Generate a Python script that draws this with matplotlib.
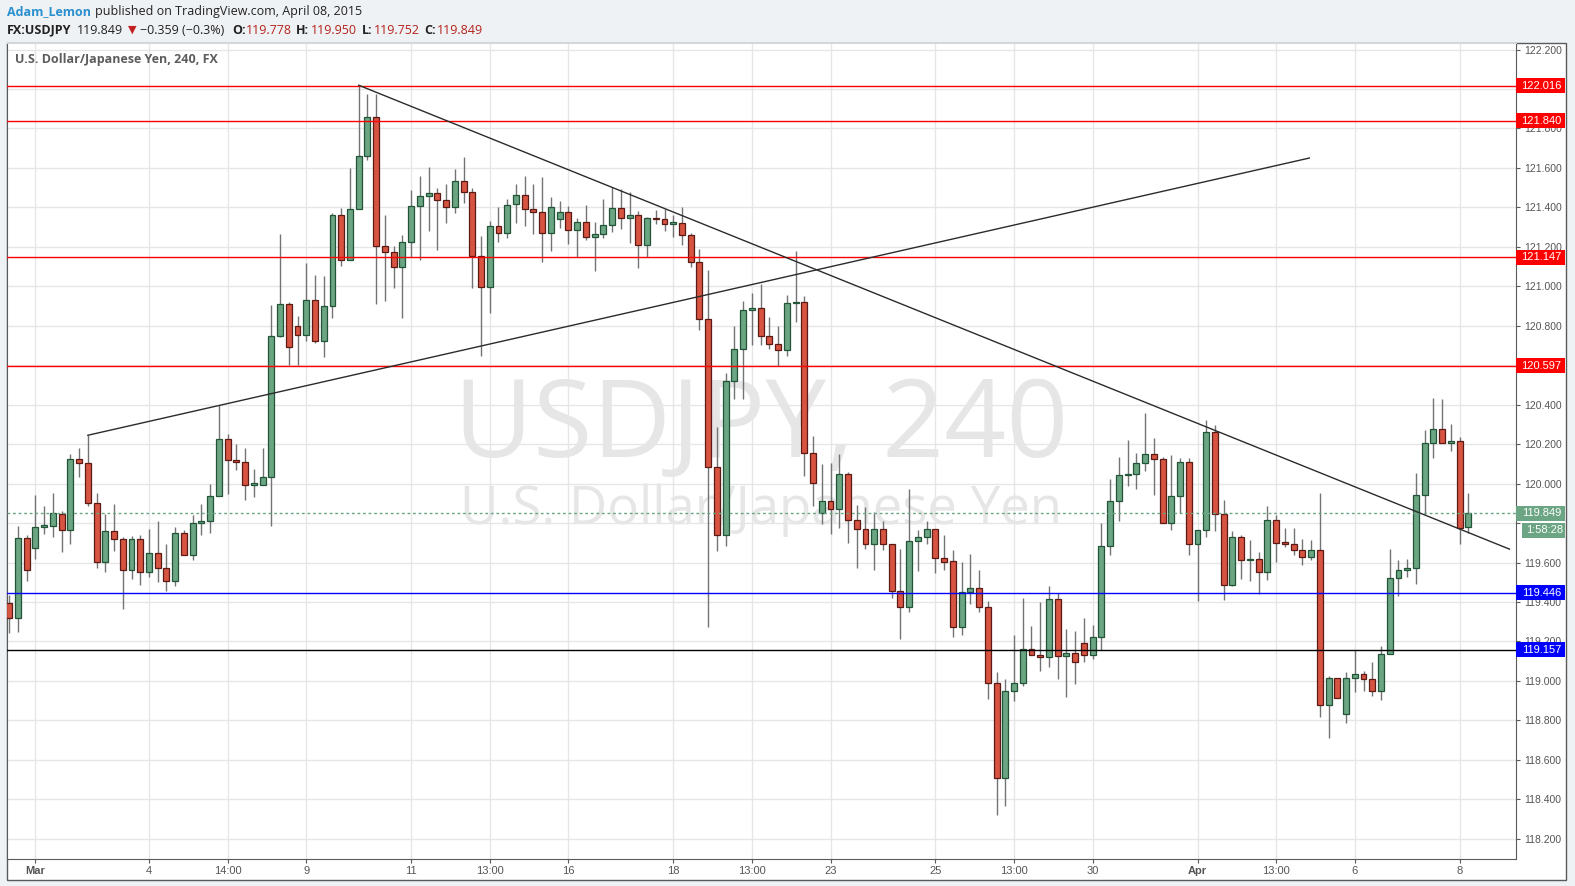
"""
USD/JPY 4h candles, Mar - Apr 2015, redrawn in TradingView style.
"""
import matplotlib
matplotlib.use('Agg')

import numpy as np
import matplotlib.pyplot as plt
import matplotlib.transforms as mtransforms
from matplotlib.patches import Rectangle

plt.rcParams['font.family'] = ['Open Sans', 'DejaVu Sans']

# OHLC, one entry per 4h candle
opens = [119.394, 119.318, 119.722, 119.672, 119.782, 119.787, 119.845, 119.767, 120.126, 120.104,
         119.902, 119.605, 119.762, 119.717, 119.560, 119.717, 119.551, 119.650, 119.571, 119.504,
         119.751, 119.636, 119.800, 119.813, 119.939, 120.227, 120.121, 120.110, 119.995, 119.995,
         120.034, 120.747, 120.909, 120.801, 120.752, 120.929, 120.721, 120.898, 121.363, 121.131,
         121.392, 121.661, 121.858, 121.206, 121.176, 121.100, 121.225, 121.408, 121.459, 121.472,
         121.437, 121.401, 121.535, 121.479, 121.156, 120.994, 121.307, 121.268, 121.417, 121.463,
         121.392, 121.378, 121.270, 121.341, 121.378, 121.286, 121.328, 121.248, 121.265, 121.311,
         121.397, 121.346, 121.362, 121.209, 121.346, 121.341, 121.317, 121.321, 121.260, 121.123,
         120.834, 120.082, 119.739, 120.521, 120.682, 120.880, 120.888, 120.747, 120.706, 120.676,
         120.914, 120.920, 120.155, 119.851, 119.913, 119.870, 120.048, 119.816, 119.771, 119.696,
         119.771, 119.696, 119.458, 119.376, 119.709, 119.729, 119.771, 119.624, 119.607, 119.274,
         119.451, 119.471, 119.375, 118.990, 118.508, 118.947, 118.990, 119.162, 119.133, 119.121,
         119.416, 119.126, 119.142, 119.192, 119.130, 119.223, 119.686, 119.913, 120.043, 120.048,
         120.105, 120.151, 120.126, 119.801, 119.938, 120.110, 119.695, 119.764, 120.263, 119.847,
         119.487, 119.730, 119.613, 119.618, 119.553, 119.816, 119.700, 119.695, 119.661, 119.629,
         119.664, 118.878, 119.015, 118.832, 119.015, 119.035, 119.010, 118.947, 119.137, 119.522,
         119.563, 119.573, 119.943, 120.207, 120.278, 120.207, 120.217, 119.778]
highs = [119.436, 119.785, 119.742, 119.941, 119.885, 119.953, 119.863, 120.148, 120.178, 120.245,
         119.950, 119.845, 119.899, 119.728, 119.737, 119.742, 119.769, 119.809, 119.692, 119.782,
         119.767, 119.840, 119.895, 119.998, 120.399, 120.251, 120.202, 120.182, 120.074, 120.178,
         120.905, 121.266, 120.918, 120.849, 121.116, 121.056, 121.051, 121.369, 121.399, 121.601,
         122.018, 121.973, 121.973, 121.363, 121.206, 121.261, 121.486, 121.558, 121.607, 121.500,
         121.518, 121.596, 121.657, 121.500, 121.253, 121.333, 121.401, 121.441, 121.519, 121.561,
         121.519, 121.556, 121.451, 121.434, 121.409, 121.345, 121.414, 121.328, 121.443, 121.502,
         121.493, 121.477, 121.384, 121.353, 121.387, 121.392, 121.363, 121.400, 121.269, 121.189,
         121.084, 120.285, 120.559, 120.797, 120.927, 120.964, 121.012, 120.846, 120.799, 120.958,
         121.181, 120.949, 120.242, 120.097, 120.103, 120.151, 120.058, 119.893, 119.883, 119.858,
         119.810, 119.696, 119.671, 119.971, 119.767, 119.812, 119.771, 119.742, 119.661, 119.602,
         119.645, 119.564, 119.404, 119.045, 119.010, 119.235, 119.421, 119.280, 119.399, 119.483,
         119.446, 119.265, 119.255, 119.319, 119.285, 119.801, 120.021, 120.136, 120.219, 120.156,
         120.356, 120.232, 120.136, 120.143, 120.131, 120.131, 119.764, 120.320, 120.295, 119.915,
         119.762, 119.742, 119.716, 119.655, 119.889, 119.843, 119.774, 119.774, 119.720, 119.713,
         119.950, 119.027, 119.015, 119.045, 119.159, 119.052, 119.098, 119.179, 119.669, 119.615,
         119.618, 120.055, 120.274, 120.435, 120.427, 120.301, 120.237, 119.950]
lows = [119.241, 119.250, 119.508, 119.620, 119.746, 119.731, 119.652, 119.692, 120.031, 119.886,
        119.574, 119.553, 119.656, 119.367, 119.515, 119.484, 119.529, 119.502, 119.457, 119.479,
        119.636, 119.614, 119.740, 119.751, 119.939, 119.948, 120.070, 119.917, 119.931, 119.995,
        119.785, 120.742, 120.599, 120.599, 120.723, 120.711, 120.644, 120.840, 121.104, 121.131,
        121.392, 121.639, 120.909, 120.927, 120.990, 120.840, 121.147, 121.135, 121.282, 121.185,
        121.323, 121.372, 121.423, 120.990, 120.647, 120.864, 121.225, 121.243, 121.319, 121.308,
        121.265, 121.122, 121.181, 121.294, 121.215, 121.150, 121.235, 121.079, 121.243, 121.274,
        121.291, 121.218, 121.091, 121.150, 121.316, 121.279, 121.248, 121.211, 121.096, 120.780,
        119.275, 119.659, 119.685, 120.428, 120.428, 120.704, 120.703, 120.683, 120.596, 120.648,
        120.817, 120.039, 119.888, 119.797, 119.746, 119.775, 119.700, 119.574, 119.667, 119.563,
        119.661, 119.419, 119.210, 119.351, 119.555, 119.696, 119.549, 119.560, 119.223, 119.235,
        119.390, 119.348, 118.908, 118.318, 118.364, 118.897, 118.973, 119.130, 119.049, 119.071,
        119.010, 118.919, 118.984, 119.094, 119.111, 119.159, 119.640, 119.813, 119.987, 119.975,
        120.063, 119.941, 119.801, 119.767, 119.853, 119.640, 119.404, 119.728, 119.759, 119.412,
        119.480, 119.518, 119.505, 119.443, 119.511, 119.602, 119.678, 119.640, 119.590, 119.611,
        118.817, 118.711, 118.913, 118.786, 118.944, 118.948, 118.922, 118.905, 119.137, 119.429,
        119.525, 119.492, 119.847, 120.130, 120.207, 120.165, 119.695, 119.752]
closes = [119.318, 119.722, 119.560, 119.782, 119.789, 119.849, 119.767, 120.126, 120.106, 119.904,
          119.605, 119.762, 119.717, 119.560, 119.717, 119.551, 119.650, 119.571, 119.504, 119.751,
          119.636, 119.802, 119.813, 119.939, 120.227, 120.121, 120.110, 119.995, 119.998, 120.034,
          120.747, 120.909, 120.691, 120.752, 120.929, 120.721, 120.898, 121.363, 121.131, 121.392,
          121.661, 121.858, 121.206, 121.176, 121.100, 121.225, 121.408, 121.459, 121.472, 121.437,
          121.401, 121.535, 121.479, 121.156, 120.994, 121.307, 121.268, 121.414, 121.463, 121.392,
          121.375, 121.270, 121.404, 121.379, 121.286, 121.328, 121.248, 121.265, 121.311, 121.397,
          121.346, 121.362, 121.209, 121.346, 121.341, 121.316, 121.320, 121.260, 121.123, 120.834,
          120.082, 119.739, 120.521, 120.682, 120.880, 120.890, 120.747, 120.706, 120.676, 120.914,
          120.920, 120.155, 120.004, 119.913, 119.870, 120.048, 119.816, 119.771, 119.696, 119.771,
          119.696, 119.458, 119.376, 119.709, 119.729, 119.771, 119.624, 119.605, 119.274, 119.451,
          119.471, 119.375, 118.990, 118.508, 118.947, 118.990, 119.162, 119.130, 119.121, 119.416,
          119.126, 119.142, 119.096, 119.130, 119.223, 119.686, 119.913, 120.043, 120.048, 120.105,
          120.151, 120.126, 119.801, 119.938, 120.110, 119.695, 119.764, 120.263, 119.847, 119.487,
          119.730, 119.613, 119.618, 119.553, 119.816, 119.700, 119.695, 119.661, 119.629, 119.664,
          118.878, 119.015, 118.913, 119.015, 119.035, 119.010, 118.947, 119.137, 119.522, 119.563,
          119.573, 119.943, 120.207, 120.278, 120.207, 120.217, 119.776, 119.849]

tick_idx = [3, 16, 25, 34, 46, 55, 64, 76, 85, 94, 106, 115, 124, 136, 145, 154, 166]
tick_lbl = ['Mar', '4', '14:00', '9', '11', '13:00', '16', '18', '13:00',
            '23', '25', '13:00', '30', 'Apr', '13:00', '6', '8']

red_levels = [122.016, 121.840, 121.147, 120.597]
blue_level = 119.446
black_level = 119.157
last_price = 119.849
countdown = '1:58:28'
# scale labels that sit fully under a price tag in the original
hidden_prices = [122.0, 119.8]

# trend lines as (candle index, price) end points
rising_x, rising_y = [9, 148.8], [120.245, 121.650]
falling_x, falling_y = [40, 171.7], [122.019, 119.668]

W, H = 1575, 886


def fx(px):
    return px / W


def fy(py):
    return 1 - py / H


fig = plt.figure(figsize=(W / 100, H / 100), dpi=100, facecolor='#eff2f5')

# white chart frame (plot + price scale + time scale), kept behind the axes
fig.patches.append(Rectangle((fx(7), fy(880)), fx(1566) - fx(7), fy(43) - fy(880),
                             transform=fig.transFigure, fc='white', ec='#5a5a5a', lw=1, zorder=-5))

ax = fig.add_axes([fx(7), fy(859), fx(1516) - fx(7), fy(43) - fy(859)])
ax.set_facecolor('white')
ax.set_xlim(-0.25, 172.45)
ax.set_ylim(118.0975, 122.233)

o = np.array(opens)
h = np.array(highs)
l = np.array(lows)
c = np.array(closes)
x = np.arange(len(o))
up = c >= o

ax.vlines(x, l, h, color='#737375', lw=1, zorder=2)
body_lo = np.minimum(o, c)
body_h = np.maximum(np.abs(c - o), 0.007)
ax.bar(x[up], body_h[up], bottom=body_lo[up], width=0.68,
       color='#6ba583', edgecolor='#225437', lw=0.9, zorder=3)
ax.bar(x[~up], body_h[~up], bottom=body_lo[~up], width=0.68,
       color='#d75442', edgecolor='#5b1a13', lw=0.9, zorder=3)

# levels and drawings
for lv in red_levels:
    ax.axhline(lv, color='#ff0000', lw=1.0, zorder=4)
ax.axhline(blue_level, color='#0000ff', lw=1.0, zorder=4)
ax.axhline(black_level, color='#000000', lw=1.0, zorder=4)
ax.axhline(last_price, color='#6ba583', lw=1, ls=(0, (2, 2)), zorder=4)
ax.plot(rising_x, rising_y, color='#2b2b2b', lw=1, zorder=4)
ax.plot(falling_x, falling_y, color='#2b2b2b', lw=1, zorder=4)

# grid and scales
yticks = np.round(np.arange(118.2, 122.21, 0.2), 1)
ax.set_yticks(yticks)
ax.set_yticklabels(['' if t in hidden_prices else f'{t:.3f}' for t in yticks])
ax.set_xticks(tick_idx)
ax.set_xticklabels(tick_lbl)
for lbl in ax.get_xticklabels():
    if lbl.get_text() in ('Mar', 'Apr'):
        lbl.set_fontweight('bold')
ax.grid(True, color='#e6e6e6', lw=1, zorder=0)
ax.set_axisbelow(True)

ax.yaxis.tick_right()
ax.tick_params(axis='y', length=3, width=0.8, color='#5a5a5a', labelcolor='#555555',
               labelsize=7.5, pad=3, labelfontfamily='Liberation Sans')
ax.tick_params(axis='x', length=3, width=0.8, color='#5a5a5a', labelcolor='#555555',
               labelsize=8, pad=2, labelfontfamily='Liberation Sans')
for side in ('left', 'bottom', 'right'):
    ax.spines[side].set_color('#5a5a5a')
ax.spines['top'].set_color('#d9d9d9')

# watermark
ax.text(fx(761), fy(457), 'USDJPY, 240', transform=fig.transFigure, ha='center', va='baseline',
        fontsize=78, color='#e6e6e6', zorder=0.5)
ax.text(fx(761), fy(524), 'U.S. Dollar/Japanese Yen', transform=fig.transFigure, ha='center',
        va='baseline', fontsize=38, color='#e6e6e6', zorder=0.5)
ax.text(fx(15), fy(60), 'U.S. Dollar/Japanese Yen, 240, FX', transform=fig.transFigure,
        ha='left', va='center', fontsize=9, fontweight='bold', color='#5d5d5d', zorder=6)

# price tags on the scale
trans = mtransforms.blended_transform_factory(fig.transFigure, ax.transData)
tag_h = 15 / 197.3


def price_tag(price, color, text, x0=1516, x1=1565):
    ax.add_patch(Rectangle((fx(x0), price - tag_h / 2), fx(x1) - fx(x0), tag_h, transform=trans,
                           fc=color, ec='none', clip_on=False, zorder=10))
    ax.text(fx((x0 + x1) / 2 + 1), price, text, transform=trans, ha='center', va='center',
            color='white', fontsize=8, family='Liberation Sans', clip_on=False, zorder=11)


for lv in red_levels:
    price_tag(lv, '#ff0000', f'{lv:.3f}')
price_tag(blue_level, '#0000ff', f'{blue_level:.3f}')
price_tag(black_level, '#0000ff', f'{black_level:.3f}')
price_tag(last_price, '#6ba583', f'{last_price:.3f}')
price_tag(last_price - 0.085, '#6ba583', countdown, x0=1522)

# header
dark = '#222222'
red = '#b5221b'
fig.text(fx(7), fy(12), 'Adam_Lemon', ha='left', va='center', fontsize=9,
         fontweight='bold', color='#2a8fcf')
fig.text(fx(95), fy(12), 'published on TradingView.com, April 08, 2015', ha='left',
         va='center', fontsize=9, color=dark)
header = [
    ('FX:USDJPY', 7, 'bold', dark),
    ('119.849', 77, 'normal', dark),
    ('\u2212' + '0.359 (\u2212' + '0.3%)', 140, 'normal', dark),
    ('O:', 232, 'bold', dark), ('119.778', 246, 'normal', red),
    ('H:', 296, 'bold', dark), ('119.950', 311, 'normal', red),
    ('L:', 362, 'bold', dark), ('119.752', 374, 'normal', red),
    ('C:', 424, 'bold', dark), ('119.849', 437, 'normal', red),
]
for txt, px, wt, col in header:
    fig.text(fx(px), fy(30), txt, ha='left', va='center', fontsize=9,
             fontweight=wt, color=col)
fig.text(fx(128), fy(30), '\u25bc', ha='left', va='center', fontsize=8,
         color='#c21f1f', family='DejaVu Sans')

fig.savefig('out.png', dpi=100, facecolor=fig.get_facecolor())
